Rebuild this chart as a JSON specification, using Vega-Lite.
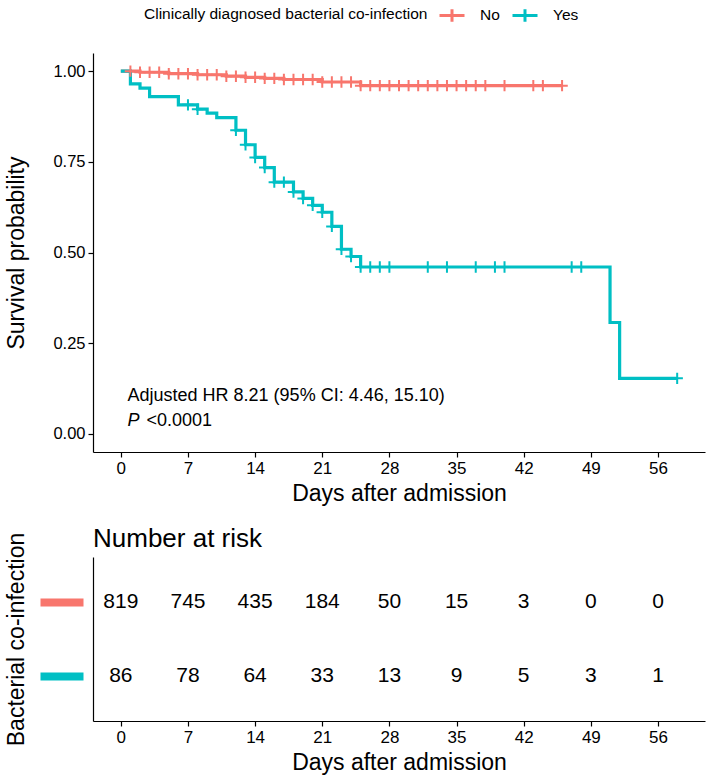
{
  "$schema": "https://vega.github.io/schema/vega-lite/v6.json",
  "padding": {"left": 5, "top": 1, "right": 3, "bottom": 5},
  "background": "white",
  "config": {
    "view": {"stroke": null},
    "font": "Liberation Sans",
    "axis": {
      "domainColor": "black", "domainWidth": 1.2, "tickColor": "black", "tickWidth": 1.2, "tickSize": 5,
      "labelColor": "black", "labelFont": "Liberation Sans", "labelPadding": 3, "labelFontSize": 17,
      "titleColor": "black", "titleFontSize": 23, "titleFontWeight": "normal", "titleFont": "Liberation Sans",
      "grid": false, "labelOverlap": false
    }
  },
  "datasets": {
    "km": [
      {"group": "No", "time": 0, "surv": 1.0},
      {"group": "No", "time": 2, "surv": 0.997},
      {"group": "No", "time": 5, "surv": 0.993},
      {"group": "No", "time": 8, "surv": 0.990},
      {"group": "No", "time": 11, "surv": 0.986},
      {"group": "No", "time": 13, "surv": 0.983},
      {"group": "No", "time": 15, "surv": 0.980},
      {"group": "No", "time": 17, "surv": 0.977},
      {"group": "No", "time": 21, "surv": 0.970},
      {"group": "No", "time": 25, "surv": 0.960},
      {"group": "No", "time": 46, "surv": 0.960},
      {"group": "Yes", "time": 0, "surv": 1.0},
      {"group": "Yes", "time": 1, "surv": 0.965},
      {"group": "Yes", "time": 2, "surv": 0.953},
      {"group": "Yes", "time": 3, "surv": 0.930},
      {"group": "Yes", "time": 6, "surv": 0.907},
      {"group": "Yes", "time": 8, "surv": 0.895},
      {"group": "Yes", "time": 9, "surv": 0.884},
      {"group": "Yes", "time": 10, "surv": 0.872},
      {"group": "Yes", "time": 12, "surv": 0.837},
      {"group": "Yes", "time": 13, "surv": 0.797},
      {"group": "Yes", "time": 14, "surv": 0.762},
      {"group": "Yes", "time": 15, "surv": 0.734},
      {"group": "Yes", "time": 16, "surv": 0.694},
      {"group": "Yes", "time": 18, "surv": 0.667},
      {"group": "Yes", "time": 19, "surv": 0.649},
      {"group": "Yes", "time": 20, "surv": 0.630},
      {"group": "Yes", "time": 21, "surv": 0.611},
      {"group": "Yes", "time": 22, "surv": 0.572},
      {"group": "Yes", "time": 23, "surv": 0.509},
      {"group": "Yes", "time": 24, "surv": 0.489},
      {"group": "Yes", "time": 25, "surv": 0.460},
      {"group": "Yes", "time": 51, "surv": 0.307},
      {"group": "Yes", "time": 52, "surv": 0.153},
      {"group": "Yes", "time": 58, "surv": 0.153}
    ],
    "censor": [
      {"group": "No", "time": 1, "surv": 1.0},
      {"group": "No", "time": 2, "surv": 0.997},
      {"group": "No", "time": 3, "surv": 0.997},
      {"group": "No", "time": 4, "surv": 0.997},
      {"group": "No", "time": 5, "surv": 0.993},
      {"group": "No", "time": 6, "surv": 0.993},
      {"group": "No", "time": 7, "surv": 0.993},
      {"group": "No", "time": 8, "surv": 0.990},
      {"group": "No", "time": 9, "surv": 0.990},
      {"group": "No", "time": 10, "surv": 0.990},
      {"group": "No", "time": 11, "surv": 0.986},
      {"group": "No", "time": 12, "surv": 0.986},
      {"group": "No", "time": 13, "surv": 0.983},
      {"group": "No", "time": 14, "surv": 0.983},
      {"group": "No", "time": 15, "surv": 0.980},
      {"group": "No", "time": 16, "surv": 0.980},
      {"group": "No", "time": 17, "surv": 0.977},
      {"group": "No", "time": 18, "surv": 0.977},
      {"group": "No", "time": 19, "surv": 0.977},
      {"group": "No", "time": 20, "surv": 0.977},
      {"group": "No", "time": 21, "surv": 0.970},
      {"group": "No", "time": 22, "surv": 0.970},
      {"group": "No", "time": 23, "surv": 0.970},
      {"group": "No", "time": 24, "surv": 0.970},
      {"group": "No", "time": 25, "surv": 0.960},
      {"group": "No", "time": 26, "surv": 0.960},
      {"group": "No", "time": 27, "surv": 0.960},
      {"group": "No", "time": 28, "surv": 0.960},
      {"group": "No", "time": 29, "surv": 0.960},
      {"group": "No", "time": 30, "surv": 0.960},
      {"group": "No", "time": 31, "surv": 0.960},
      {"group": "No", "time": 32, "surv": 0.960},
      {"group": "No", "time": 33, "surv": 0.960},
      {"group": "No", "time": 34, "surv": 0.960},
      {"group": "No", "time": 35, "surv": 0.960},
      {"group": "No", "time": 36, "surv": 0.960},
      {"group": "No", "time": 37, "surv": 0.960},
      {"group": "No", "time": 38, "surv": 0.960},
      {"group": "No", "time": 40, "surv": 0.960},
      {"group": "No", "time": 43, "surv": 0.960},
      {"group": "No", "time": 44, "surv": 0.960},
      {"group": "No", "time": 46, "surv": 0.960},
      {"group": "Yes", "time": 7, "surv": 0.907},
      {"group": "Yes", "time": 8, "surv": 0.895},
      {"group": "Yes", "time": 12, "surv": 0.837},
      {"group": "Yes", "time": 13, "surv": 0.797},
      {"group": "Yes", "time": 14, "surv": 0.762},
      {"group": "Yes", "time": 15, "surv": 0.734},
      {"group": "Yes", "time": 16, "surv": 0.694},
      {"group": "Yes", "time": 17, "surv": 0.694},
      {"group": "Yes", "time": 18, "surv": 0.667},
      {"group": "Yes", "time": 19, "surv": 0.649},
      {"group": "Yes", "time": 20, "surv": 0.630},
      {"group": "Yes", "time": 21, "surv": 0.611},
      {"group": "Yes", "time": 22, "surv": 0.572},
      {"group": "Yes", "time": 23, "surv": 0.509},
      {"group": "Yes", "time": 24, "surv": 0.489},
      {"group": "Yes", "time": 25, "surv": 0.460},
      {"group": "Yes", "time": 26, "surv": 0.460},
      {"group": "Yes", "time": 27, "surv": 0.460},
      {"group": "Yes", "time": 28, "surv": 0.460},
      {"group": "Yes", "time": 32, "surv": 0.460},
      {"group": "Yes", "time": 34, "surv": 0.460},
      {"group": "Yes", "time": 37, "surv": 0.460},
      {"group": "Yes", "time": 39, "surv": 0.460},
      {"group": "Yes", "time": 40, "surv": 0.460},
      {"group": "Yes", "time": 47, "surv": 0.460},
      {"group": "Yes", "time": 48, "surv": 0.460},
      {"group": "Yes", "time": 58, "surv": 0.153}
    ],
    "risk": [
      {"group": "No", "time": 0, "n": 819},
      {"group": "No", "time": 7, "n": 745},
      {"group": "No", "time": 14, "n": 435},
      {"group": "No", "time": 21, "n": 184},
      {"group": "No", "time": 28, "n": 50},
      {"group": "No", "time": 35, "n": 15},
      {"group": "No", "time": 42, "n": 3},
      {"group": "No", "time": 49, "n": 0},
      {"group": "No", "time": 56, "n": 0},
      {"group": "Yes", "time": 0, "n": 86},
      {"group": "Yes", "time": 7, "n": 78},
      {"group": "Yes", "time": 14, "n": 64},
      {"group": "Yes", "time": 21, "n": 33},
      {"group": "Yes", "time": 28, "n": 13},
      {"group": "Yes", "time": 35, "n": 9},
      {"group": "Yes", "time": 42, "n": 5},
      {"group": "Yes", "time": 49, "n": 3},
      {"group": "Yes", "time": 56, "n": 1}
    ]
  },
  "vconcat": [
    {
      "width": 612,
      "height": 399,
      "layer": [
        {
          "data": {"name": "km"},
          "mark": {"type": "line", "interpolate": "step-after", "strokeWidth": 3.2, "strokeJoin": "miter"},
          "encoding": {
            "x": {"field": "time", "type": "quantitative",
                  "scale": {"domain": [-2.9, 60.9], "nice": false, "zero": false},
                  "axis": {"values": [0, 7, 14, 21, 28, 35, 42, 49, 56], "title": "Days after admission", "titlePadding": 6}},
            "y": {"field": "surv", "type": "quantitative",
                  "scale": {"domain": [-0.05, 1.05], "nice": false, "zero": false},
                  "axis": {"values": [0, 0.25, 0.5, 0.75, 1], "format": ".2f", "title": "Survival probability", "labelFontSize": 16.5, "titlePadding": 24}},
            "color": {"field": "group", "type": "nominal",
                      "scale": {"domain": ["No", "Yes"], "range": ["#F8766D", "#00BFC4"]},
                      "legend": {
                        "title": "Clinically diagnosed bacterial co-infection",
                        "orient": "none", "legendX": 51, "legendY": -52,
                        "direction": "horizontal", "titleOrient": "left", "titleLimit": 500, "labelLimit": 200,
                        "titleFontSize": 15.5, "titleFontWeight": "normal", "titleColor": "black", "titlePadding": 10,
                        "labelFontSize": 15.5, "labelColor": "black", "labelOffset": 14, "columnPadding": 6,
                        "symbolType": "M-1,0L1,0M0,-0.5L0,0.5", "symbolSize": 625, "symbolStrokeWidth": 3
                      }}
          }
        },
        {
          "data": {"name": "censor"},
          "mark": {"type": "point", "shape": "M0,-1L0,1M-1,0L1,0", "filled": false, "strokeWidth": 2, "size": 130, "opacity": 1},
          "encoding": {
            "x": {"field": "time", "type": "quantitative"},
            "y": {"field": "surv", "type": "quantitative"},
            "color": {"field": "group", "type": "nominal"}
          }
        },
        {
          "data": {"values": [{}]},
          "mark": {"type": "text", "text": "Adjusted HR 8.21 (95% CI: 4.46, 15.10)", "align": "left", "baseline": "alphabetic", "fontSize": 18, "color": "black"},
          "encoding": {"x": {"datum": 0.7}, "y": {"datum": 0.091}}
        },
        {
          "data": {"values": [{}]},
          "mark": {"type": "text", "text": "P", "align": "left", "baseline": "alphabetic", "fontSize": 18, "fontStyle": "italic", "color": "black"},
          "encoding": {"x": {"datum": 0.7}, "y": {"datum": 0.022}}
        },
        {
          "data": {"values": [{}]},
          "mark": {"type": "text", "text": "<0.0001", "align": "left", "baseline": "alphabetic", "fontSize": 18, "color": "black", "dx": 19},
          "encoding": {"x": {"datum": 0.7}, "y": {"datum": 0.022}}
        }
      ]
    },
    {
      "width": 612,
      "height": 164,
      "title": {"text": "Number at risk", "anchor": "start", "frame": "group", "fontSize": 26, "fontWeight": "normal", "color": "black", "font": "Liberation Sans", "offset": -20},
      "data": {"name": "risk"},
      "resolve": {"axis": {"y": "independent"}},
      "layer": [
        {
          "mark": {"type": "text", "fontSize": 21, "color": "black"},
          "encoding": {
            "x": {"field": "time", "type": "quantitative",
                  "scale": {"domain": [-2.9, 60.9], "nice": false, "zero": false},
                  "axis": {"values": [0, 7, 14, 21, 28, 35, 42, 49, 56], "title": "Days after admission", "titlePadding": 6,
                           "encode": {"labels": {"update": {"fontSize": {"value": 17}, "font": {"value": "Liberation Sans"}}}}}},
            "y": {"field": "group", "type": "nominal",
                  "scale": {"type": "point", "domain": ["No", "Yes"], "padding": 0.6},
                  "axis": {"orient": "left", "title": null, "ticks": false, "labels": false, "domain": true}},
            "text": {"field": "n", "type": "quantitative"}
          }
        },
        {
          "mark": {"type": "tick", "opacity": 0},
          "encoding": {
            "y": {"field": "group", "type": "nominal",
                  "axis": {"orient": "left", "title": "Bacterial co-infection", "domain": false, "labels": false,
                           "ticks": true, "tickSize": 43, "tickWidth": 8, "tickCap": "butt", "offset": 10,
                           "tickColor": {"condition": {"test": "datum.value === 'No'", "value": "#F8766D"}, "value": "#00BFC4"},
                           "titlePadding": 8}}
          }
        }
      ]
    }
  ],
  "spacing": 21
}
